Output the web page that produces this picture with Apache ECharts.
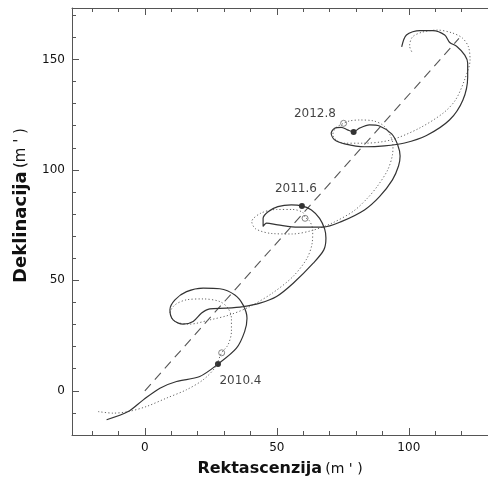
<!DOCTYPE html>
<html><head><meta charset="utf-8">
<script src="https://cdn.jsdelivr.net/npm/echarts@6/dist/echarts.min.js"></script>
<style>html,body{margin:0;padding:0;background:#fff}#c{width:488px;height:482px}</style>
</head><body><div id="c"></div>
<script>
// ---- data ----
const xRange = [-27.6, 130];
const yRange = [-20, 173.3];
const xMajorTicks = [0, 50, 100];
const xMinorTicks = [-20, -10, 10, 20, 30, 40, 60, 70, 80, 90, 110, 120, 130];
const yMajorTicks = [0, 50, 100, 150];
const yMinorTicks = [-10, 10, 20, 30, 40, 60, 70, 80, 90, 110, 120, 130, 140, 160, 170];

const solidPath = [
[-14.5,-13.1],[-6.3,-9.4],[-0.6,-4.1],[5.7,1.2],[12.0,4.2],[20.8,6.5],[27.7,12.1],[34.7,19.3],[37.8,26.8],[38.7,32.9],[37.2,38.9],[34.1,43.4],[28.4,46.2],[22.1,46.5],[15.8,44.9],[11.4,41.2],[9.5,36.7],[10.7,32.1],[14.5,30.2],[18.3,31.4],[21.5,35.2],[24.6,37.1],[30.9,37.4],[37.2,38.1],[43.6,39.7],[49.9,42.7],[56.2,48.7],[63.8,57.8],[67.8,63.8],[68.6,69.2],[68.1,73.3],[66.2,78.1],[63.1,81.9],[59.5,83.7],[55.5,84.2],[50.4,83.4],[46.7,81.1],[44.8,78.1],[44.8,74.4],[46.1,75.9],[50.4,75.1],[58.0,74.1],[67.5,74.1],[74.4,76.6],[83.2,81.9],[88.9,87.9],[93.8,95.5],[96.1,101.8],[96.7,106.3],[95.8,111.3],[93.5,116.3],[88.9,119.9],[85.1,120.4],[81.3,118.9],[79.1,117.2],[76.8,118.1],[74.4,119.3],[71.9,118.9],[70.6,116.6],[71.9,113.6],[75.7,111.8],[83.2,110.5],[90.8,110.9],[98.4,112.2],[106.7,115.6],[115.4,122.6],[120.5,131.7],[122.3,142.1],[122.3,148.4],[121.2,152.0],[118.2,155.9],[115.5,157.7],[113.6,161.1],[109.1,163.1],[104.2,163.1],[99.1,161.1],[97.3,155.7]
];
const dottedPath = [
[-17.7,-9.4],[-12.0,-10.1],[-6.3,-9.4],[0.6,-7.1],[8.2,-3.3],[15.8,0.5],[22.1,5.0],[26.5,10.4],[29.1,17.2],[31.5,20.8],[32.8,26.8],[32.8,32.9],[31.5,37.4],[28.4,40.4],[22.1,41.6],[15.8,41.2],[11.4,38.9],[9.5,35.2],[11.4,31.4],[17.0,30.2],[24.6,32.1],[32.2,34.4],[39.7,38.1],[48.4,44.3],[56.0,51.6],[61.3,59.7],[63.4,67.0],[63.6,72.9],[62.4,76.9],[60.7,78.6],[59.8,80.8],[56.0,82.1],[49.9,82.1],[43.9,80.4],[40.5,76.6],[42.0,73.3],[48.2,71.2],[55.8,71.0],[63.4,72.6],[70.9,75.9],[79.1,81.4],[84.4,87.3],[88.2,92.8],[92.0,100.0],[93.8,106.8],[94.0,111.3],[92.7,116.3],[90.4,120.1],[86.6,122.2],[81.3,122.6],[77.6,122.2],[75.3,121.1],[72.3,119.0],[71.2,115.8],[73.0,113.1],[75.7,112.1],[83.2,112.1],[93.3,113.6],[104.0,118.9],[113.1,125.8],[117.7,131.7],[121.1,140.7],[123.2,149.8],[122.6,155.7],[120.3,159.7],[116.5,162.0],[110.9,163.3],[105.2,162.4],[101.4,160.2],[100.3,156.1],[101.4,152.9]
];
const dashedLine = [[0, 0], [119, 159.5]];
const epochs = ['2010.4', '2011.6', '2012.8'];
const filledDots = [[27.7, 12.1], [59.5, 83.7], [79.1, 117.2]];
const openDots = [[29.1, 17.2], [60.7, 78.1], [75.3, 121.1]];

// ---- styling ----
const labelOffsets = [[22.5, 16.7], [-6, -16.7], [-38.7, -18]];
const FONT = 'DejaVu Sans';
const AX = '#555';
const TXT = '#111';

function xAxisDef(position, ticks, len, labels, line, name) {
  return {
    type: 'value', position: position, min: xRange[0], max: xRange[1],
    name: name || '', nameLocation: 'middle', nameGap: 26,
    nameTextStyle: { rich: {
      a: { fontFamily: FONT, fontSize: 16, fontWeight: 'bold', color: TXT },
      b: { fontFamily: FONT, fontSize: 14, color: TXT } } },
    axisLine: { show: line, onZero: false, lineStyle: { color: AX, width: 1 } },
    axisTick: { show: true, inside: true, length: len, customValues: ticks, lineStyle: { color: AX, width: 1 } },
    axisLabel: labels ? { show: true, customValues: labels, margin: 7, fontFamily: FONT, fontSize: 12, color: TXT } : { show: false },
    splitLine: { show: false }
  };
}
function yAxisDef(ticks, len, labels, line, name) {
  return {
    type: 'value', position: 'left', min: yRange[0], max: yRange[1],
    name: name || '', nameLocation: 'middle', nameGap: 42, nameRotate: 90,
    nameTextStyle: { padding: [0, 0, 0, 32], rich: {
      a: { fontFamily: FONT, fontSize: 18, fontWeight: 'bold', color: TXT },
      b: { fontFamily: FONT, fontSize: 15, color: TXT } } },
    axisLine: { show: line, onZero: false, lineStyle: { color: AX, width: 1 } },
    axisTick: { show: true, inside: true, length: len, customValues: ticks, lineStyle: { color: AX, width: 1 } },
    axisLabel: labels ? { show: true, customValues: labels, margin: 7, fontFamily: FONT, fontSize: 12, color: TXT } : { show: false },
    splitLine: { show: false }
  };
}

const chart = echarts.init(document.getElementById('c'), null, { renderer: 'canvas' });
chart.setOption({
  animation: false,
  backgroundColor: '#fff',
  grid: { left: 72, right: 0, top: 8, bottom: 47, outerBoundsMode: 'none', containLabel: false },
  xAxis: [
    xAxisDef('bottom', xMajorTicks, 7, xMajorTicks, true, '{a|Rektascenzija} {b|(m \' )}'),
    xAxisDef('bottom', xMinorTicks, 4, null, false),
    xAxisDef('top', xMajorTicks, 7, null, true),
    xAxisDef('top', xMinorTicks, 4, null, false)
  ],
  yAxis: [
    yAxisDef(yMajorTicks, 7, yMajorTicks, true, '{a|Deklinacija} {b|(m \' )}'),
    yAxisDef(yMinorTicks, 4, null, false)
  ],
  series: [
    { type: 'line', data: dashedLine, showSymbol: false, silent: true,
      lineStyle: { color: '#555', width: 1.1, type: [9, 6] } },
    { type: 'line', data: dottedPath, showSymbol: false, smooth: 0.3, silent: true,
      lineStyle: { color: '#666', width: 1, type: [1.2, 2.2] } },
    { type: 'line', data: solidPath, showSymbol: false, smooth: 0.3, silent: true,
      lineStyle: { color: '#333', width: 1.2 } },
    { type: 'scatter', data: openDots, symbol: 'circle', symbolSize: 6, silent: true,
      itemStyle: { color: '#fff', borderColor: '#666', borderWidth: 1 } },
    { type: 'scatter', symbol: 'circle', symbolSize: 6, silent: true,
      itemStyle: { color: '#000' },
      data: filledDots.map((p, i) => ({ value: p, label: { offset: labelOffsets[i] } })),
      label: { show: true, position: 'inside', align: 'center', verticalAlign: 'middle',
        formatter: (p) => epochs[p.dataIndex], fontFamily: FONT, fontSize: 12, color: TXT,
        textBorderWidth: 0 } }
  ]
});
</script></body></html>
